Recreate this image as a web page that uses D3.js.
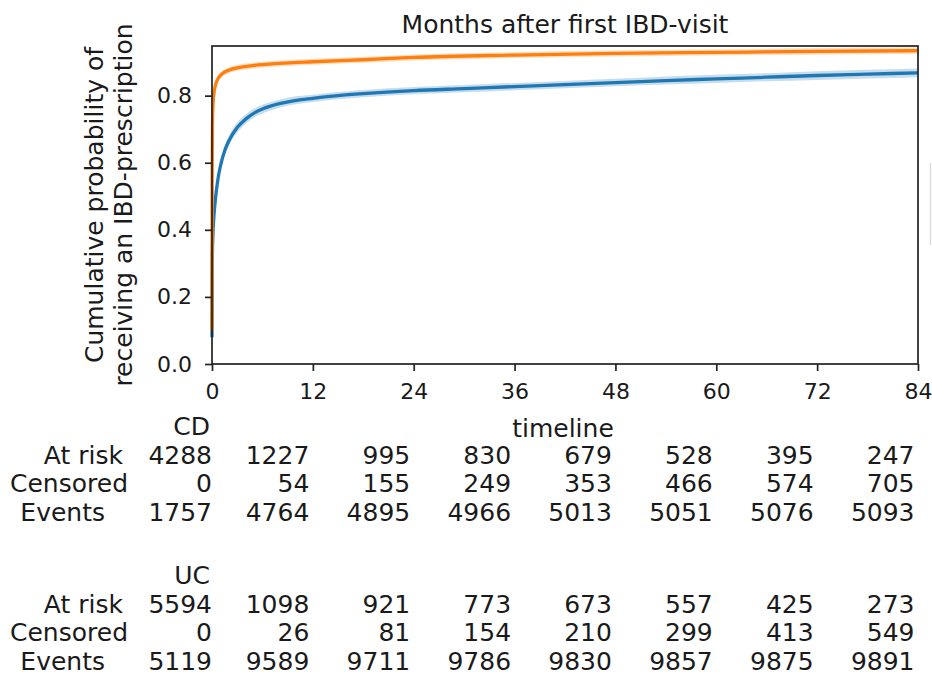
<!DOCTYPE html>
<html>
<head>
<meta charset="utf-8">
<script src="https://cdn.jsdelivr.net/npm/d3@7"></script>
<style>
  html, body { margin: 0; padding: 0; background: #fff; }
  svg { display: block; font-family: "DejaVu Sans", sans-serif; }
</style>
</head>
<body>
<svg id="chart" width="932" height="676"></svg>
<script>
// Kaplan–Meier style cumulative incidence, months after first IBD visit
const monthTicks = [0, 12, 24, 36, 48, 60, 72, 84];
const yTicks = [0.0, 0.2, 0.4, 0.6, 0.8];

// CD (blue) cumulative probability with confidence band
const cdTime  = [0, 0.03, 0.1, 0.2, 0.4, 0.7, 1, 1.5, 2, 3, 4, 5, 6, 8, 10, 12, 15, 18, 24, 30, 36, 42, 48, 54, 60, 66, 72, 78, 84];
const cdCum   = [0.08, 0.30, 0.38, 0.43, 0.49, 0.55, 0.59, 0.635, 0.665, 0.705, 0.73, 0.748, 0.76, 0.776, 0.786, 0.792, 0.80, 0.806, 0.815, 0.821, 0.827, 0.833, 0.839, 0.845, 0.850, 0.855, 0.860, 0.864, 0.868];
const cdLow   = [0.065, 0.285, 0.365, 0.415, 0.475, 0.535, 0.575, 0.62, 0.65, 0.69, 0.716, 0.735, 0.747, 0.764, 0.774, 0.781, 0.789, 0.795, 0.804, 0.810, 0.816, 0.822, 0.828, 0.833, 0.838, 0.843, 0.847, 0.851, 0.855];
const cdHigh  = [0.095, 0.315, 0.395, 0.445, 0.505, 0.565, 0.605, 0.65, 0.68, 0.72, 0.744, 0.761, 0.773, 0.788, 0.798, 0.803, 0.811, 0.817, 0.826, 0.832, 0.838, 0.844, 0.850, 0.857, 0.862, 0.867, 0.873, 0.877, 0.881];

// UC (orange) cumulative probability with confidence band
const ucTime  = [0, 0.02, 0.05, 0.1, 0.2, 0.4, 0.7, 1, 1.5, 2, 3, 5, 8, 12, 18, 24, 36, 48, 60, 72, 84];
const ucCum   = [0.10, 0.55, 0.70, 0.76, 0.80, 0.83, 0.85, 0.86, 0.87, 0.876, 0.883, 0.890, 0.896, 0.901, 0.907, 0.914, 0.921, 0.926, 0.929, 0.932, 0.934];
const ucLow   = [0.085, 0.535, 0.685, 0.748, 0.789, 0.82, 0.84, 0.85, 0.861, 0.867, 0.874, 0.881, 0.887, 0.892, 0.898, 0.905, 0.912, 0.917, 0.920, 0.922, 0.924];
const ucHigh  = [0.115, 0.565, 0.715, 0.772, 0.811, 0.84, 0.86, 0.87, 0.879, 0.885, 0.892, 0.899, 0.905, 0.910, 0.916, 0.923, 0.930, 0.935, 0.938, 0.942, 0.944];

// Numbers-at-risk tables
const rowNames = ["At risk", "Censored", "Events"];
const cdAtRisk   = [4288, 1227, 995, 830, 679, 528, 395, 247];
const cdCensored = [0, 54, 155, 249, 353, 466, 574, 705];
const cdEvents   = [1757, 4764, 4895, 4966, 5013, 5051, 5076, 5093];
const ucAtRisk   = [5594, 1098, 921, 773, 673, 557, 425, 273];
const ucCensored = [0, 26, 81, 154, 210, 299, 413, 549];
const ucEvents   = [5119, 9589, 9711, 9786, 9830, 9857, 9875, 9891];

const C0 = "#1f77b4", C1 = "#ff7f0e";
const textColor = "#1a1a1a";

const svg = d3.select("#chart");

const plot = { left: 212, right: 918, top: 46, bottom: 364 };
const x = d3.scaleLinear().domain([0, 84]).range([plot.left, plot.right]);
const y = d3.scaleLinear().domain([0, 0.948]).range([plot.bottom, plot.top]);

// Confidence bands and lines
function drawSeries(time, cum, low, high, color) {
  const pts = time.map((t, i) => ({ t, v: cum[i], lo: low[i], hi: high[i] }));
  const area = d3.area()
    .x(d => x(d.t)).y0(d => y(d.lo)).y1(d => y(d.hi))
    .curve(d3.curveMonotoneX);
  const line = d3.line()
    .x(d => x(d.t)).y(d => y(d.v))
    .curve(d3.curveMonotoneX);
  svg.append("path").datum(pts).attr("d", area)
    .attr("fill", color).attr("fill-opacity", 0.25).attr("stroke", "none");
  svg.append("path").datum(pts).attr("d", line)
    .attr("fill", "none").attr("stroke", color).attr("stroke-width", 3.3)
    .attr("stroke-linejoin", "round");
}

drawSeries(cdTime, cdCum, cdLow, cdHigh, C0);
drawSeries(ucTime, ucCum, ucLow, ucHigh, C1);

// Axes
const xAxis = d3.axisBottom(x).tickValues(monthTicks).tickSize(7).tickPadding(12)
  .tickFormat(d3.format("d"));
const yAxis = d3.axisLeft(y).tickValues(yTicks).tickSize(7).tickPadding(13)
  .tickFormat(d3.format(".1f"));

const gx = svg.append("g").attr("transform", `translate(0,${plot.bottom})`).call(xAxis);
const gy = svg.append("g").attr("transform", `translate(${plot.left},0)`).call(yAxis);
[gx, gy].forEach(g => {
  g.select(".domain").remove();
  g.selectAll(".tick line").attr("stroke", "#222").attr("stroke-width", 1.7);
  g.selectAll(".tick text").attr("fill", textColor)
    .style("font-size", "22px").style("font-family", "DejaVu Sans");
});

// Frame
svg.append("rect")
  .attr("x", plot.left).attr("y", plot.top)
  .attr("width", plot.right - plot.left).attr("height", plot.bottom - plot.top)
  .attr("fill", "none").attr("stroke", "#222").attr("stroke-width", 1.7);

// Title
svg.append("text").attr("x", (plot.left + plot.right) / 2).attr("y", 33)
  .attr("text-anchor", "middle").attr("fill", textColor)
  .style("font-size", "25px").text("Months after first IBD-visit");

// Y label (two lines)
const yl = svg.append("text")
  .attr("transform", `translate(103,${(plot.top + plot.bottom) / 2}) rotate(-90)`)
  .attr("text-anchor", "middle").attr("fill", textColor).style("font-size", "25px");
yl.append("tspan").attr("x", 0).attr("y", 0).text("Cumulative probability of");
yl.append("tspan").attr("x", 0).attr("y", 29).text("receiving an IBD-prescription");

// X label
svg.append("text").attr("x", 563).attr("y", 437)
  .attr("text-anchor", "middle").attr("fill", textColor)
  .style("font-size", "25px").text("timeline");

// At-risk tables
const rowLabelX = [123, 128, 105];
function drawTable(name, rows, baseY) {
  const lh = 28.6;
  const g = svg.append("g").style("font-size", "25px").attr("fill", textColor);
  g.append("text").attr("x", 210).attr("y", baseY).attr("text-anchor", "end").text(name);
  rows.forEach((vals, r) => {
    const yy = baseY + lh * (r + 1);
    g.append("text").attr("x", rowLabelX[r]).attr("y", yy)
      .attr("text-anchor", "end").text(rowNames[r]);
    vals.forEach((v, i) => {
      g.append("text")
        .attr("x", x(monthTicks[i]) - (i === 0 ? 0 : 3.5))
        .attr("y", yy).attr("text-anchor", "end").text(v);
    });
  });
}
drawTable("CD", [cdAtRisk, cdCensored, cdEvents], 435);
drawTable("UC", [ucAtRisk, ucCensored, ucEvents], 584);

// Edge of a clipped legend frame at the right margin
svg.append("line").attr("x1", 930.5).attr("x2", 930.5).attr("y1", 163).attr("y2", 245)
  .attr("stroke", "#dcdcdc").attr("stroke-width", 1.5);
</script>
</body>
</html>
